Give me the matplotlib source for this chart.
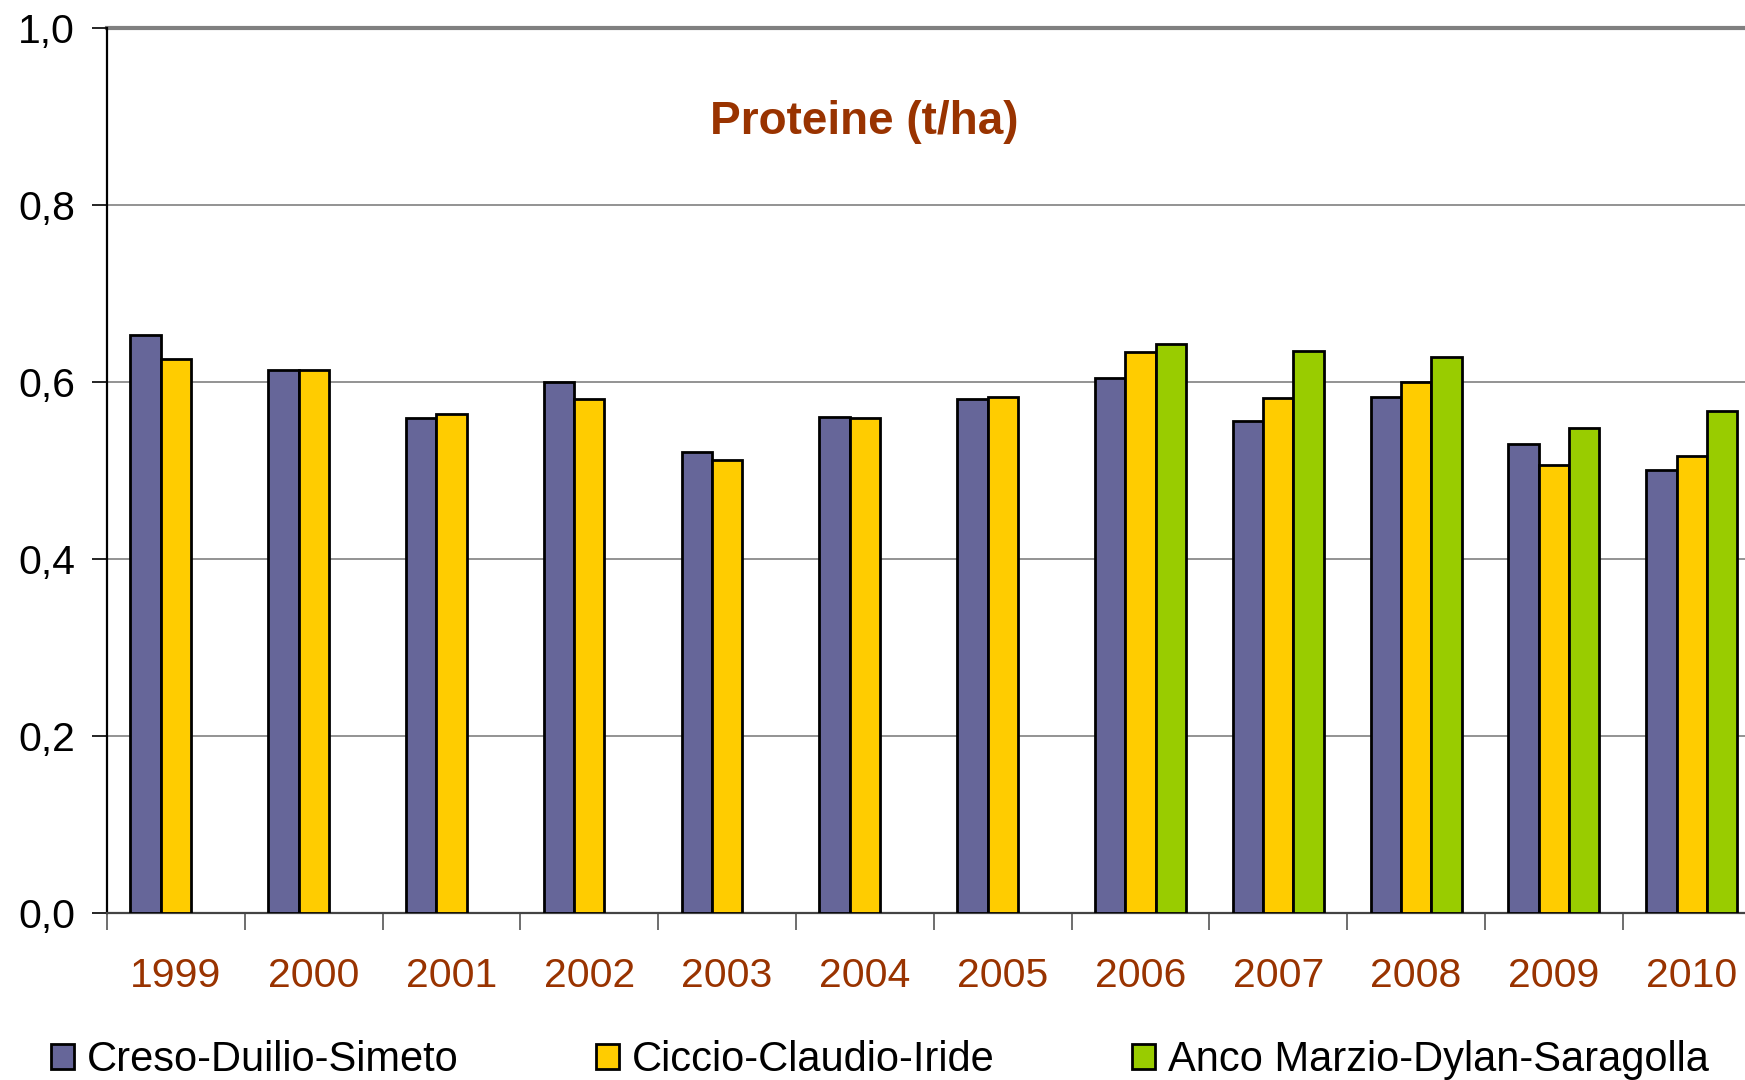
import matplotlib
matplotlib.use("Agg")
import matplotlib.pyplot as plt
import numpy as np
from matplotlib.patches import Patch

plt.rcParams['font.family'] = ['Liberation Sans', 'DejaVu Sans']

years = ['1999', '2000', '2001', '2002', '2003', '2004', '2005',
         '2006', '2007', '2008', '2009', '2010']
series_names = ['Creso-Duilio-Simeto', 'Ciccio-Claudio-Iride',
                'Anco Marzio-Dylan-Saragolla']
creso = [0.653, 0.613, 0.559, 0.600, 0.521, 0.561, 0.581,
         0.605, 0.556, 0.583, 0.530, 0.501]
ciccio = [0.626, 0.614, 0.564, 0.581, 0.512, 0.559, 0.583,
          0.634, 0.582, 0.600, 0.506, 0.516]
anco = [np.nan, np.nan, np.nan, np.nan, np.nan, np.nan, np.nan,
        0.643, 0.635, 0.628, 0.548, 0.567]
colors = ['#666699', '#FFCC00', '#99CC00']

W, H = 1745, 1080
fig = plt.figure(figsize=(W / 100, H / 100), dpi=100)
ax = fig.add_axes([107 / W, (H - 913) / H, 1 - 107 / W, (913 - 28) / H])

x = np.arange(len(years))
bw = 0.22
for i, (vals, c, name) in enumerate(zip([creso, ciccio, anco], colors, series_names)):
    ax.bar(x + (i - 1) * bw, vals, width=bw, color=c, edgecolor='black',
           linewidth=2.0, label=name, zorder=3)

ax.set_xlim(-0.5, 11.387)
ax.set_ylim(0, 1.0)
ax.set_yticks([0.0, 0.2, 0.4, 0.6, 0.8, 1.0])
ax.set_yticklabels(['0,0', '0,2', '0,4', '0,6', '0,8', '1,0'])
ax.yaxis.grid(True, color='#808080', linewidth=1.2, zorder=0)
ax.axhline(1.0, color='#808080', linewidth=3, zorder=1, clip_on=False)

ax.set_xticks(x)
ax.set_xticklabels(years)
ax.set_xticks(np.arange(-0.5, 11.5, 1.0), minor=True)
ax.tick_params(axis='x', which='major', length=0, pad=32, labelsize=29.5,
               labelcolor='#993300')
ax.tick_params(axis='x', which='minor', length=12, width=1.2, color='#555555')
ax.tick_params(axis='y', length=11, width=1.2, labelsize=29.5, pad=12,
               color='black')

for s in ['top', 'right']:
    ax.spines[s].set_visible(False)
ax.spines['left'].set_linewidth(1.6)
ax.spines['bottom'].set_linewidth(1.6)
ax.spines['bottom'].set_color('#444444')

fig.text(864 / W, 1 - 122 / H, 'Proteine (t/ha)', ha='center', va='center',
         fontsize=33, fontweight='bold', color='#993300')

handles = [Patch(facecolor=c, edgecolor='black', linewidth=2.0) for c in colors]
fig.legend(handles, series_names, loc='center left',
           bbox_to_anchor=(51 / W, 1 - 1060 / H), ncol=3, frameon=False,
           fontsize=30, handlelength=0.56, handleheight=0.56,
           handletextpad=0.3, columnspacing=3.3, borderpad=0, borderaxespad=0)

fig.savefig('out.png', dpi=100)
